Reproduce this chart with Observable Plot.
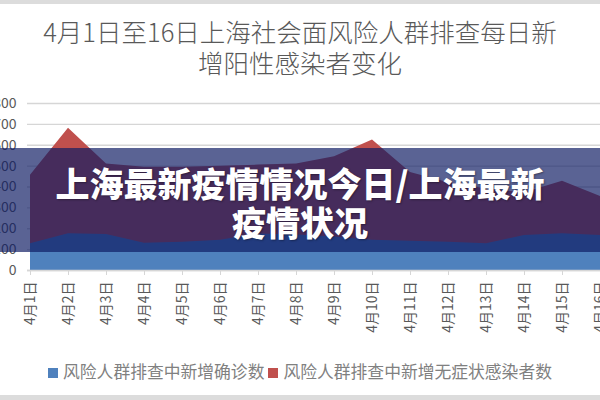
<!DOCTYPE html>
<html>
<head>
<meta charset="utf-8">
<script src="https://cdn.jsdelivr.net/npm/d3@7"></script>
<script src="https://cdn.jsdelivr.net/npm/@observablehq/plot@0.6"></script>
<style>
  html, body { margin: 0; padding: 0; width: 600px; height: 400px; overflow: hidden; background: #fff; font-family: "Noto Sans CJK SC", "Noto Sans", sans-serif; }
  #top-bar { position: absolute; left: 0; top: 0; width: 600px; height: 4px; background: #dcdcdc; }
  #bottom-bar { position: absolute; left: 0; top: 395px; width: 600px; height: 5px; background: #dcdcdc; }
  .title-line { position: absolute; left: 0; width: 600px; text-align: center; font-size: 25.5px; line-height: 30px; height: 30px; color: #595959; font-weight: 300; white-space: nowrap; }
  #chart { position: absolute; left: 0; top: 80px; }
  #legend { position: absolute; left: 0; top: 360px; width: 600px; text-align: center; font-size: 16.8px; color: #808080; line-height: 22px; white-space: nowrap; }
  #legend .item { display: inline-block; margin: 0 2px; }
  #legend .sw { display: inline-block; width: 10px; height: 10px; margin-right: 5px; vertical-align: 0px; }
  #banner { position: absolute; left: 0; top: 148px; width: 600px; height: 104px; background: rgba(14, 27, 99, 0.685); }
  .banner-line { position: absolute; left: 0; width: 600px; text-align: center; color: #fff; font-size: 34px; font-weight: 900; line-height: 38px; height: 38px; text-shadow: 1px 1px 2px rgba(0,0,0,0.35); white-space: nowrap; }
</style>
</head>
<body>
<div id="top-bar"></div>
<div id="titles"></div>
<div id="chart"></div>
<div id="legend"></div>
<div id="banner"></div>
<div id="banner-texts"></div>
<div id="bottom-bar"></div>
<script>
const titleLines = ["4月1日至16日上海社会面风险人群排查每日新", "增阳性感染者变化"];
const bannerLines = ["上海最新疫情情况今日/上海最新", "疫情状况"];
const dates = ["4月1日","4月2日","4月3日","4月4日","4月5日","4月6日","4月7日","4月8日","4月9日","4月10日","4月11日","4月12日","4月13日","4月14日","4月15日","4月16日"];
const confirmed = [128, 176, 172, 130, 135, 145, 175, 170, 160, 145, 140, 135, 128, 168, 176, 168];
const asymptomatic = [456, 681, 510, 495, 495, 500, 505, 510, 545, 625, 470, 420, 390, 372, 428, 355];
const yTicks = [0, 100, 200, 300, 400, 500, 600, 700, 800];
const seriesNames = ["风险人群排查中新增确诊数", "风险人群排查中新增无症状感染者数"];
const seriesColors = ["#4F81BD", "#C0504D"];

document.getElementById("titles").innerHTML = titleLines.map((t, i) =>
  `<div class="title-line" style="top:${16 + i * 31}px">${t}</div>`).join("");
document.getElementById("banner-texts").innerHTML = bannerLines.map((t, i) =>
  `<div class="banner-line" style="top:${164 + i * 39}px">${t}</div>`).join("");
document.getElementById("legend").innerHTML = seriesNames.map((n, i) =>
  `<span class="item"><span class="sw" style="background:${seriesColors[i]}"></span>${n}</span>`).join("");

const data = dates.map((d, i) => ({date: d, conf: confirmed[i], asym: asymptomatic[i]}));

const chart = Plot.plot({
  width: 620,
  height: 255,
  marginLeft: 27,
  marginRight: 17,
  marginTop: 23,
  marginBottom: 65,
  style: {fontFamily: '"Noto Sans CJK SC", sans-serif', fontSize: "14px", color: "#595959", background: "transparent", maxWidth: "none", overflow: "hidden"},
  x: {type: "point", domain: dates, padding: 0},
  y: {domain: [0, 800]},
  marks: [
    Plot.gridY(yTicks, {stroke: "#d6d6d6", strokeOpacity: 1, strokeWidth: 1.3}),
    Plot.areaY(data, {x: "date", y: "asym", fill: seriesColors[1]}),
    Plot.areaY(data, {x: "date", y: "conf", fill: seriesColors[0]}),
    Plot.ruleY([0], {stroke: "#d6d6d6", strokeWidth: 1.3}),
    Plot.axisX({tickRotate: -90, tickSize: 5, tickPadding: 6, stroke: "#d6d6d6", label: null, fill: "#595959"}),
    Plot.axisY(yTicks, {tickSize: 0, tickPadding: 11, label: null, fill: "#595959"})
  ]
});
document.getElementById("chart").appendChild(chart);
</script>
</body>
</html>
